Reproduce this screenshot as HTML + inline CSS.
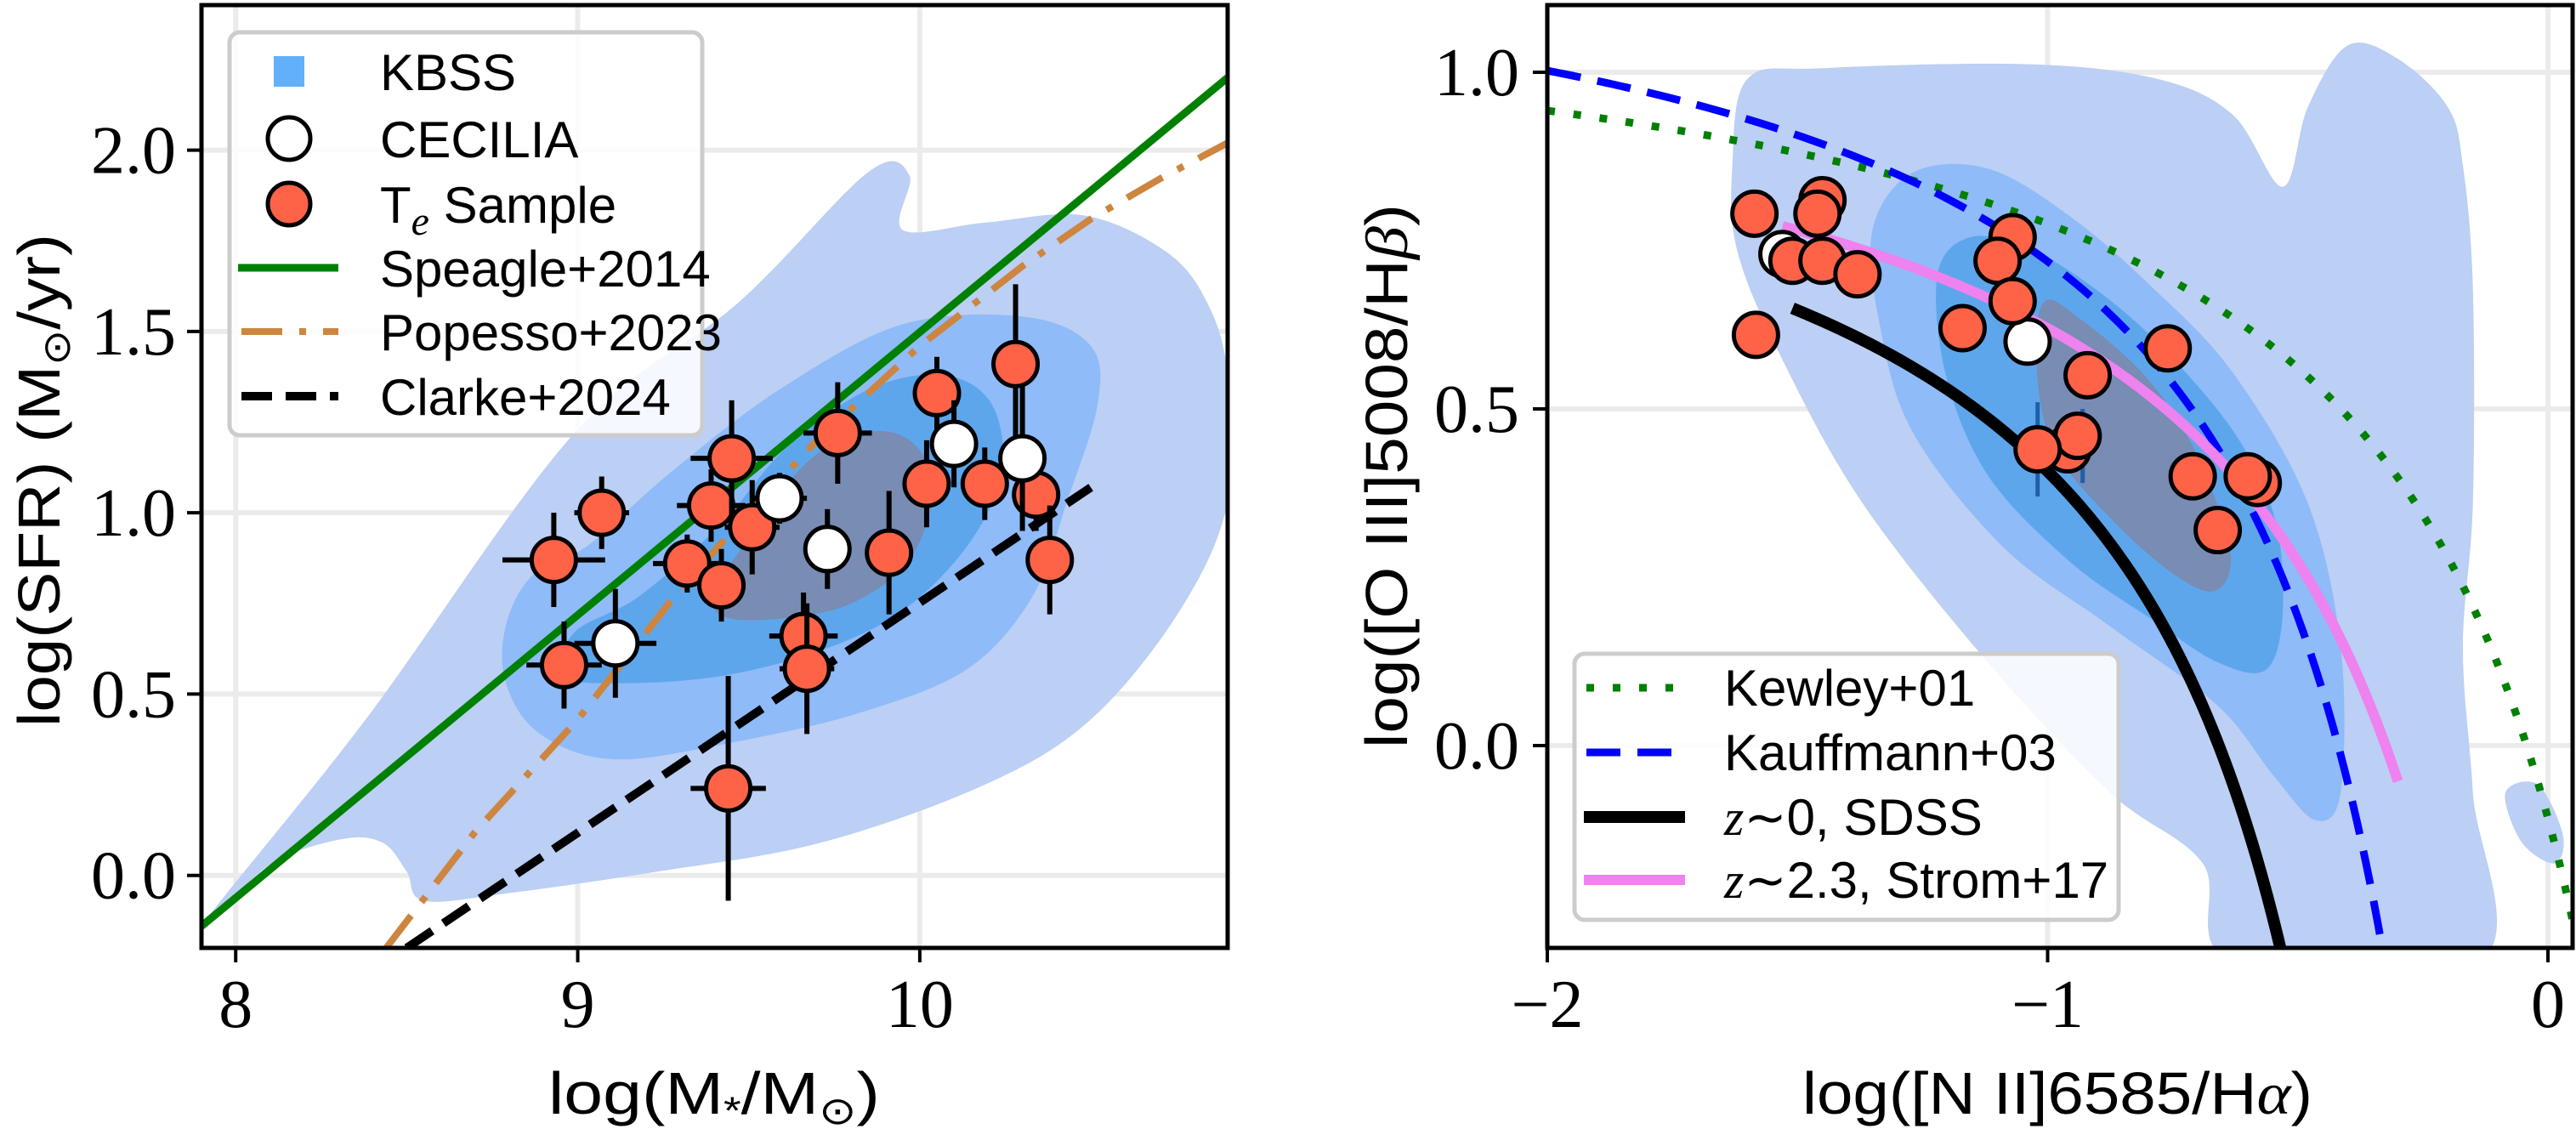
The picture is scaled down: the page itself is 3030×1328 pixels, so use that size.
<!DOCTYPE html>
<html><head><meta charset="utf-8"><style>
html,body{margin:0;padding:0;background:#fff;}
svg{display:block;}
.tick{font-family:"Liberation Serif",serif;font-size:80px;fill:#000;}
.lab{font-family:"Liberation Sans",sans-serif;font-size:70px;fill:#000;}
.leg{font-family:"Liberation Sans",sans-serif;font-size:60px;fill:#000;}
</style></head><body>
<svg id="fig" width="3030" height="1328" viewBox="0 0 3030 1328" xmlns="http://www.w3.org/2000/svg">
<g id="L"></g>
<g id="R"></g>
</svg>
<script>
// ===== Left panel data =====
const redMass=[8.93,9.07,8.96,9.32,9.39,9.45,9.42,9.51,9.76,9.66,9.67,9.44,9.91,10.02,10.05,10.19,10.28,10.34,10.38];
const redSFR=[0.87,1.00,0.58,0.86,1.02,1.15,0.80,0.96,1.22,0.66,0.57,0.24,0.89,1.08,1.33,1.08,1.41,1.05,0.87];
const redMassErr=[0.15,0.08,0.11,0.10,0.10,0.12,0.07,0.08,0.10,0.10,0.08,0.11,0.05,0.05,0.06,0.05,0.03,0.04,0.02];
const redSFRErr=[0.13,0.10,0.12,0.08,0.10,0.16,0.10,0.13,0.14,0.12,0.18,0.31,0.17,0.12,0.10,0.10,0.22,0.10,0.15];
const whiteMass=[9.11,9.59,9.73,10.10,10.30];
const whiteSFR=[0.64,1.04,0.90,1.19,1.15];
const whiteMassErr=[0.12,0.08,0.04,0.04,0.04];
const whiteSFRErr=[0.15,0.07,0.11,0.12,0.20];
const speagleX=[7.9,10.9];
const speagleY=[-0.14,2.2];
const popessoX=[8.44,8.7,9.0,9.3,9.5,9.7,10.0,10.3,10.5,10.7,10.9];
const popessoY=[-0.2,0.12,0.43,0.79,1.0,1.2,1.46,1.68,1.81,1.92,2.02];
const clarkeX=[8.5,10.5];
const clarkeY=[-0.2,1.07];
const leftXTicks=[8,9,10];
const leftYTicks=[0.0,0.5,1.0,1.5,2.0];
const leftC1x=[7.90,8.38,8.99,9.47,9.85,9.97,9.95,10.19,10.48,10.72,10.84,10.90,10.90,10.76,10.50,10.19,9.71,9.23,8.79,8.55,8.50,8.43,8.31,8.10];
const leftC1y=[-0.14,0.43,1.22,1.58,1.94,1.93,1.78,1.80,1.82,1.72,1.58,1.38,1.03,0.73,0.43,0.25,0.09,0.01,-0.05,-0.07,0.01,0.09,0.10,0.03];
const leftC2x=[8.79,8.87,9.03,9.27,9.59,9.95,10.31,10.50,10.52,10.43,10.33,10.14,9.83,9.47,9.11,8.89,8.79];
const leftC2y=[0.69,0.83,0.91,1.11,1.34,1.52,1.54,1.46,1.30,1.03,0.77,0.57,0.45,0.37,0.32,0.39,0.53];
const leftC3x=[8.96,8.99,9.18,9.42,9.61,9.85,10.07,10.21,10.24,10.14,9.95,9.71,9.42,9.13];
const leftC3y=[0.55,0.67,0.77,0.97,1.18,1.34,1.38,1.30,1.11,0.91,0.73,0.62,0.55,0.53];
const leftC4x=[9.39,9.47,9.66,9.83,9.97,10.04,9.97,9.80,9.61,9.44];
const leftC4y=[0.77,0.89,1.13,1.22,1.20,1.07,0.87,0.75,0.71,0.71];

// ===== Right panel data =====
const bptRedX=[-1.586,-1.583,-1.45,-1.46,-1.51,-1.45,-1.38,-1.07,-1.10,-1.07,-1.17,-0.76,-0.92,-0.96,-0.94,-1.02,-0.71,-0.58,-0.60,-0.66];
const bptRedY=[0.79,0.61,0.81,0.79,0.72,0.72,0.70,0.755,0.72,0.66,0.62,0.59,0.55,0.44,0.46,0.44,0.40,0.39,0.40,0.32];
const bptWhiteX=[-1.53,-1.04];
const bptWhiteY=[0.73,0.60];
const rightXTicks=[-2,-1,0];
const rightYTicks=[0.0,0.5,1.0];
const rightC1x=[-1.63,-1.60,-1.45,-1.04,-0.78,-0.63,-0.53,-0.48,-0.40,-0.30,-0.20,-0.17,-0.15,-0.15,-0.17,-0.15,-0.135,-0.63,-0.69,-0.875,-1.12,-1.37,-1.53,-1.62];
const rightC1y=[0.862,0.99,1.006,1.012,0.99,0.937,0.83,0.948,1.04,1.02,0.948,0.862,0.68,0.36,0.145,-0.07,-0.32,-0.32,-0.175,-0.07,0.124,0.36,0.573,0.734];
const rightBlobX=[-0.085,-0.02,0.03,0.013,-0.053];
const rightBlobY=[-0.07,-0.058,-0.133,-0.175,-0.143];
const rightC2x=[-1.35,-1.27,-1.12,-0.957,-0.79,-0.628,-0.48,-0.414,-0.414,-0.464,-0.546,-0.661,-0.875,-1.089,-1.27,-1.336];
const rightC2y=[0.766,0.851,0.857,0.787,0.68,0.552,0.36,0.145,-0.068,-0.111,-0.047,0.06,0.177,0.295,0.466,0.627];
const rightC3x=[-1.22,-1.155,-1.04,-0.908,-0.776,-0.628,-0.546,-0.53,-0.563,-0.661,-0.793,-0.957,-1.12,-1.204];
const rightC3y=[0.70,0.755,0.739,0.68,0.595,0.466,0.338,0.199,0.113,0.124,0.188,0.274,0.402,0.552];
const rightC4x=[-1.007,-0.941,-0.809,-0.71,-0.636,-0.661,-0.743,-0.875,-0.99,-1.023];
const rightC4y=[0.659,0.637,0.552,0.445,0.295,0.231,0.252,0.338,0.445,0.573];

const NS="http://www.w3.org/2000/svg";
function mk(tag,attrs,parent){const e=document.createElementNS(NS,tag);for(const k in attrs)e.setAttribute(k,attrs[k]);parent.appendChild(e);return e;}
function lin(d0,d1,p0,p1){return v=>p0+(v-d0)/(d1-d0)*(p1-p0);}
function smooth(xs,ys,sx,sy){const P=xs.map((x,i)=>[sx(x),sy(ys[i])]);const n=P.length;let d=`M${P[0][0]},${P[0][1]}`;
 for(let i=0;i<n;i++){const p0=P[(i-1+n)%n],p1=P[i],p2=P[(i+1)%n],p3=P[(i+2)%n];
 d+=` C${p1[0]+(p2[0]-p0[0])/6},${p1[1]+(p2[1]-p0[1])/6} ${p2[0]-(p3[0]-p1[0])/6},${p2[1]-(p3[1]-p1[1])/6} ${p2[0]},${p2[1]}`;}return d+'Z';}
function polyline(xs,ys,sx,sy){return xs.map((x,i)=>(i?'L':'M')+sx(x)+','+sy(ys[i])).join(' ');}

const C1='rgb(188,207,244)',C2='rgb(143,187,248)',C3='rgb(94,166,236)',C4='rgb(120,140,180)';

// ----- LEFT -----
(function(){
const g=document.getElementById('L');
const X0=237,X1=1444,Y0=6,Y1=1115;
const sx=lin(7.9,10.9,X0,X1), sy=lin(-0.2,2.4,Y1,Y0);
mk('clipPath',{id:'clipL'},g).appendChild(Object.assign(document.createElementNS(NS,'rect'),{}));
const cr=g.querySelector('#clipL rect');cr.setAttribute('x',X0);cr.setAttribute('y',Y0);cr.setAttribute('width',X1-X0);cr.setAttribute('height',Y1-Y0);
const grid=mk('g',{},g);


leftXTicks.forEach(t=>mk('line',{x1:sx(t),x2:sx(t),y1:Y0,y2:Y1,stroke:'#ebebeb','stroke-width':6},grid));
leftYTicks.forEach(t=>mk('line',{x1:X0,x2:X1,y1:sy(t),y2:sy(t),stroke:'#ebebeb','stroke-width':6},grid));
const cg=mk('g',{'clip-path':'url(#clipL)'},g);


[[leftC1x,leftC1y,C1],[leftC2x,leftC2y,C2],[leftC3x,leftC3y,C3],[leftC4x,leftC4y,C4]].forEach((c,i)=>{
 const p=mk('path',{d:smooth(c[0],c[1],sx,sy),fill:c[2]},cg);
 
 
});
const lg=mk('g',{'clip-path':'url(#clipL)'},g);
const sp=mk('path',{d:polyline(speagleX,speagleY,sx,sy),stroke:'#008000','stroke-width':9,fill:'none'},lg);


const po=mk('path',{d:polyline(popessoX,popessoY,sx,sy),stroke:'#cd853f','stroke-width':8,fill:'none','stroke-dasharray':'48,20,8,20'},lg);


const cl=mk('path',{d:polyline(clarkeX,clarkeY,sx,sy),stroke:'#000','stroke-width':10,fill:'none','stroke-dasharray':'36,16'},lg);


const pts=mk('g',{},g);
function pt(x,y,xe,ye,fill,name){
 mk('line',{x1:sx(x-xe),x2:sx(x+xe),y1:sy(y),y2:sy(y),stroke:'#000','stroke-width':6},pts);
 mk('line',{x1:sx(x),x2:sx(x),y1:sy(y-ye),y2:sy(y+ye),stroke:'#000','stroke-width':6},pts);
 const c=mk('circle',{cx:sx(x),cy:sy(y),r:26,fill:fill,stroke:'#000','stroke-width':5},pts);
 
 
}
redMass.forEach((m,i)=>pt(m,redSFR[i],redMassErr[i],redSFRErr[i],'#ff6347','te-sample-point'));
whiteMass.forEach((m,i)=>pt(m,whiteSFR[i],whiteMassErr[i],whiteSFRErr[i],'#fff','cecilia-point'));
const fr=mk('rect',{x:X0,y:Y0,width:X1-X0,height:Y1-Y0,fill:'none',stroke:'#000','stroke-width':5},g);


leftXTicks.forEach(t=>{mk('line',{x1:sx(t),x2:sx(t),y1:Y1,y2:Y1+17,stroke:'#000','stroke-width':4},g);
 const tx=mk('text',{x:sx(t),y:Y1+93,'text-anchor':'middle',class:'tick'},g);tx.textContent=String(t);
 
 });
leftYTicks.forEach(t=>{mk('line',{x1:X0-17,x2:X0,y1:sy(t),y2:sy(t),stroke:'#000','stroke-width':4},g);
 const tx=mk('text',{x:X0-30,y:sy(t)+27,'text-anchor':'end',class:'tick'},g);tx.textContent=t.toFixed(1);
 
 });
const xl=mk('text',{x:840,y:1310,'text-anchor':'middle',class:'lab',textLength:390,lengthAdjust:'spacingAndGlyphs'},g);
xl.innerHTML='log(M<tspan font-size="45" dy="12">*</tspan><tspan dy="-12">/M</tspan><tspan font-size="45" dy="12">⊙</tspan><tspan dy="-12">)</tspan>';


const yl=mk('text',{x:0,y:0,'text-anchor':'middle',class:'lab',transform:'translate(70,565) rotate(-90)',textLength:580,lengthAdjust:'spacingAndGlyphs'},g);
yl.innerHTML='log(SFR) (M<tspan font-size="45" dy="12">⊙</tspan><tspan dy="-12">/yr)</tspan>';


// legend
const L=mk('g',{},g);


mk('rect',{x:270,y:38,width:556,height:474,rx:12,fill:'rgba(255,255,255,0.85)',stroke:'#cccccc','stroke-width':5},L);
const rows=[84,163,240,315,390,466];
const names=['KBSS','CECILIA','T<tspan font-family="Liberation Serif" font-style="italic" font-size="48" dy="14">e</tspan><tspan dy="-14"> Sample</tspan>','Speagle+2014','Popesso+2023','Clarke+2024'];
mk('rect',{x:322,y:rows[0]-18,width:36,height:36,fill:'#63b0fa'},L);
mk('circle',{cx:340,cy:rows[1],r:25,fill:'#fff',stroke:'#000','stroke-width':5},L);
mk('circle',{cx:340,cy:rows[2],r:25,fill:'#ff6347',stroke:'#000','stroke-width':5},L);
mk('line',{x1:280,x2:398,y1:rows[3],y2:rows[3],stroke:'#008000','stroke-width':9},L);
mk('line',{x1:284,x2:398,y1:rows[4],y2:rows[4],stroke:'#cd853f','stroke-width':8,'stroke-dasharray':'48,20,8,20'},L);
mk('line',{x1:284,x2:398,y1:rows[5],y2:rows[5],stroke:'#000','stroke-width':10,'stroke-dasharray':'36,16'},L);
names.forEach((n,i)=>{const t=mk('text',{x:447,y:rows[i]+22,class:'leg'},L);t.innerHTML=n;
 
 });
})();

// ----- RIGHT -----
(function(){
const g=document.getElementById('R');
const X0=1820,X1=3026,Y0=6,Y1=1115;
const sx=lin(-2,0,X0,2997), sy=lin(0,1,877,85);
const cp=mk('clipPath',{id:'clipR'},g);mk('rect',{x:X0,y:Y0,width:X1-X0,height:Y1-Y0},cp);
const grid=mk('g',{},g);


rightXTicks.forEach(t=>mk('line',{x1:sx(t),x2:sx(t),y1:Y0,y2:Y1,stroke:'#ebebeb','stroke-width':6},grid));
rightYTicks.forEach(t=>mk('line',{x1:X0,x2:X1,y1:sy(t),y2:sy(t),stroke:'#ebebeb','stroke-width':6},grid));
const cg=mk('g',{'clip-path':'url(#clipR)'},g);


[[rightC1x,rightC1y,C1],[rightBlobX,rightBlobY,C1],[rightC2x,rightC2y,C2],[rightC3x,rightC3y,C3],[rightC4x,rightC4y,C4]].forEach((c,i)=>{
 const p=mk('path',{d:smooth(c[0],c[1],sx,sy),fill:c[2]},cg);
 
 
});
const lg=mk('g',{'clip-path':'url(#clipR)'},g);
function curve(f,a,b){const xs=[],ys=[];for(let k=0;k<=200;k++){const x=a+(b-a)*k/200;xs.push(x);ys.push(f(x));}return polyline(xs,ys,sx,sy);}
const ke=mk('path',{d:curve(x=>0.61/(x-0.47)+1.19,-2,0.065),stroke:'#008000','stroke-width':9,fill:'none','stroke-dasharray':'9,22'},lg);


const ka=mk('path',{d:curve(x=>0.61/(x-0.05)+1.3,-2,-0.331),stroke:'#0000ff','stroke-width':9,fill:'none','stroke-dasharray':'40,20'},lg);


const sd=mk('path',{d:curve(x=>0.61/(x+0.093)+1.08,-1.51,-0.53),stroke:'#000','stroke-width':14,fill:'none'},lg);


const st=mk('path',{d:curve(x=>0.61/(x-0.22)+1.12,-1.53,-0.30),stroke:'#ee82ee','stroke-width':12,fill:'none'},lg);


const pts=mk('g',{},g);
mk('line',{x1:sx(-1.02),x2:sx(-1.02),y1:sy(0.37),y2:sy(0.51),stroke:'#1f5fa8','stroke-width':5},pts);
mk('line',{x1:sx(-0.93),x2:sx(-0.93),y1:sy(0.39),y2:sy(0.50),stroke:'#1f5fa8','stroke-width':5},pts);
mk('line',{x1:sx(-1.63),x2:sx(-1.54),y1:sy(0.61),y2:sy(0.61),stroke:'#000','stroke-width':6},pts);
function pt(x,y,fill,name){const c=mk('circle',{cx:sx(x),cy:sy(y),r:26,fill:fill,stroke:'#000','stroke-width':5},pts);
 
 }
bptWhiteX.forEach((x,i)=>pt(x,bptWhiteY[i],'#fff','cecilia-bpt-point'));
bptRedX.forEach((x,i)=>pt(x,bptRedY[i],'#ff6347','te-sample-bpt-point'));
const fr=mk('rect',{x:X0,y:Y0,width:X1-X0,height:Y1-Y0,fill:'none',stroke:'#000','stroke-width':5},g);


rightXTicks.forEach(t=>{mk('line',{x1:sx(t),x2:sx(t),y1:Y1,y2:Y1+17,stroke:'#000','stroke-width':4},g);
 const tx=mk('text',{x:sx(t),y:Y1+93,'text-anchor':'middle',class:'tick'},g);tx.textContent=t<0?'−'+Math.abs(t):String(t);
 
 });
rightYTicks.forEach(t=>{mk('line',{x1:X0-17,x2:X0,y1:sy(t),y2:sy(t),stroke:'#000','stroke-width':4},g);
 const tx=mk('text',{x:X0-33,y:sy(t)+27,'text-anchor':'end',class:'tick'},g);tx.textContent=t.toFixed(1);
 
 });
const xl=mk('text',{x:2420,y:1310,'text-anchor':'middle',class:'lab',textLength:600,lengthAdjust:'spacingAndGlyphs'},g);
xl.innerHTML='log([N II]6585/H<tspan font-family="Liberation Serif" font-style="italic">α</tspan>)';


const yl=mk('text',{x:0,y:0,'text-anchor':'middle',class:'lab',transform:'translate(1655,560) rotate(-90)',textLength:640,lengthAdjust:'spacingAndGlyphs'},g);
yl.innerHTML='log([O III]5008/H<tspan font-family="Liberation Serif" font-style="italic">β</tspan>)';


const L=mk('g',{},g);


mk('rect',{x:1852,y:769,width:640,height:313,rx:12,fill:'rgba(255,255,255,0.85)',stroke:'#cccccc','stroke-width':5},L);
const rows=[809,885,961,1035];
mk('line',{x1:1866,x2:1980,y1:rows[0],y2:rows[0],stroke:'#008000','stroke-width':9,'stroke-dasharray':'9,22'},L);
mk('line',{x1:1866,x2:1980,y1:rows[1],y2:rows[1],stroke:'#0000ff','stroke-width':9,'stroke-dasharray':'40,20'},L);
mk('line',{x1:1863,x2:1982,y1:rows[2],y2:rows[2],stroke:'#000','stroke-width':14},L);
mk('line',{x1:1863,x2:1982,y1:rows[3],y2:rows[3],stroke:'#ee82ee','stroke-width':12},L);
const nm=['Kewley+01','Kauffmann+03','<tspan font-family="Liberation Serif" font-style="italic">z</tspan>∼0, SDSS','<tspan font-family="Liberation Serif" font-style="italic">z</tspan>∼2.3, Strom+17'];
nm.forEach((n,i)=>{const t=mk('text',{x:2028,y:rows[i]+21,class:'leg'},L);t.innerHTML=n;
 
 });
})();
</script>
</body></html>
